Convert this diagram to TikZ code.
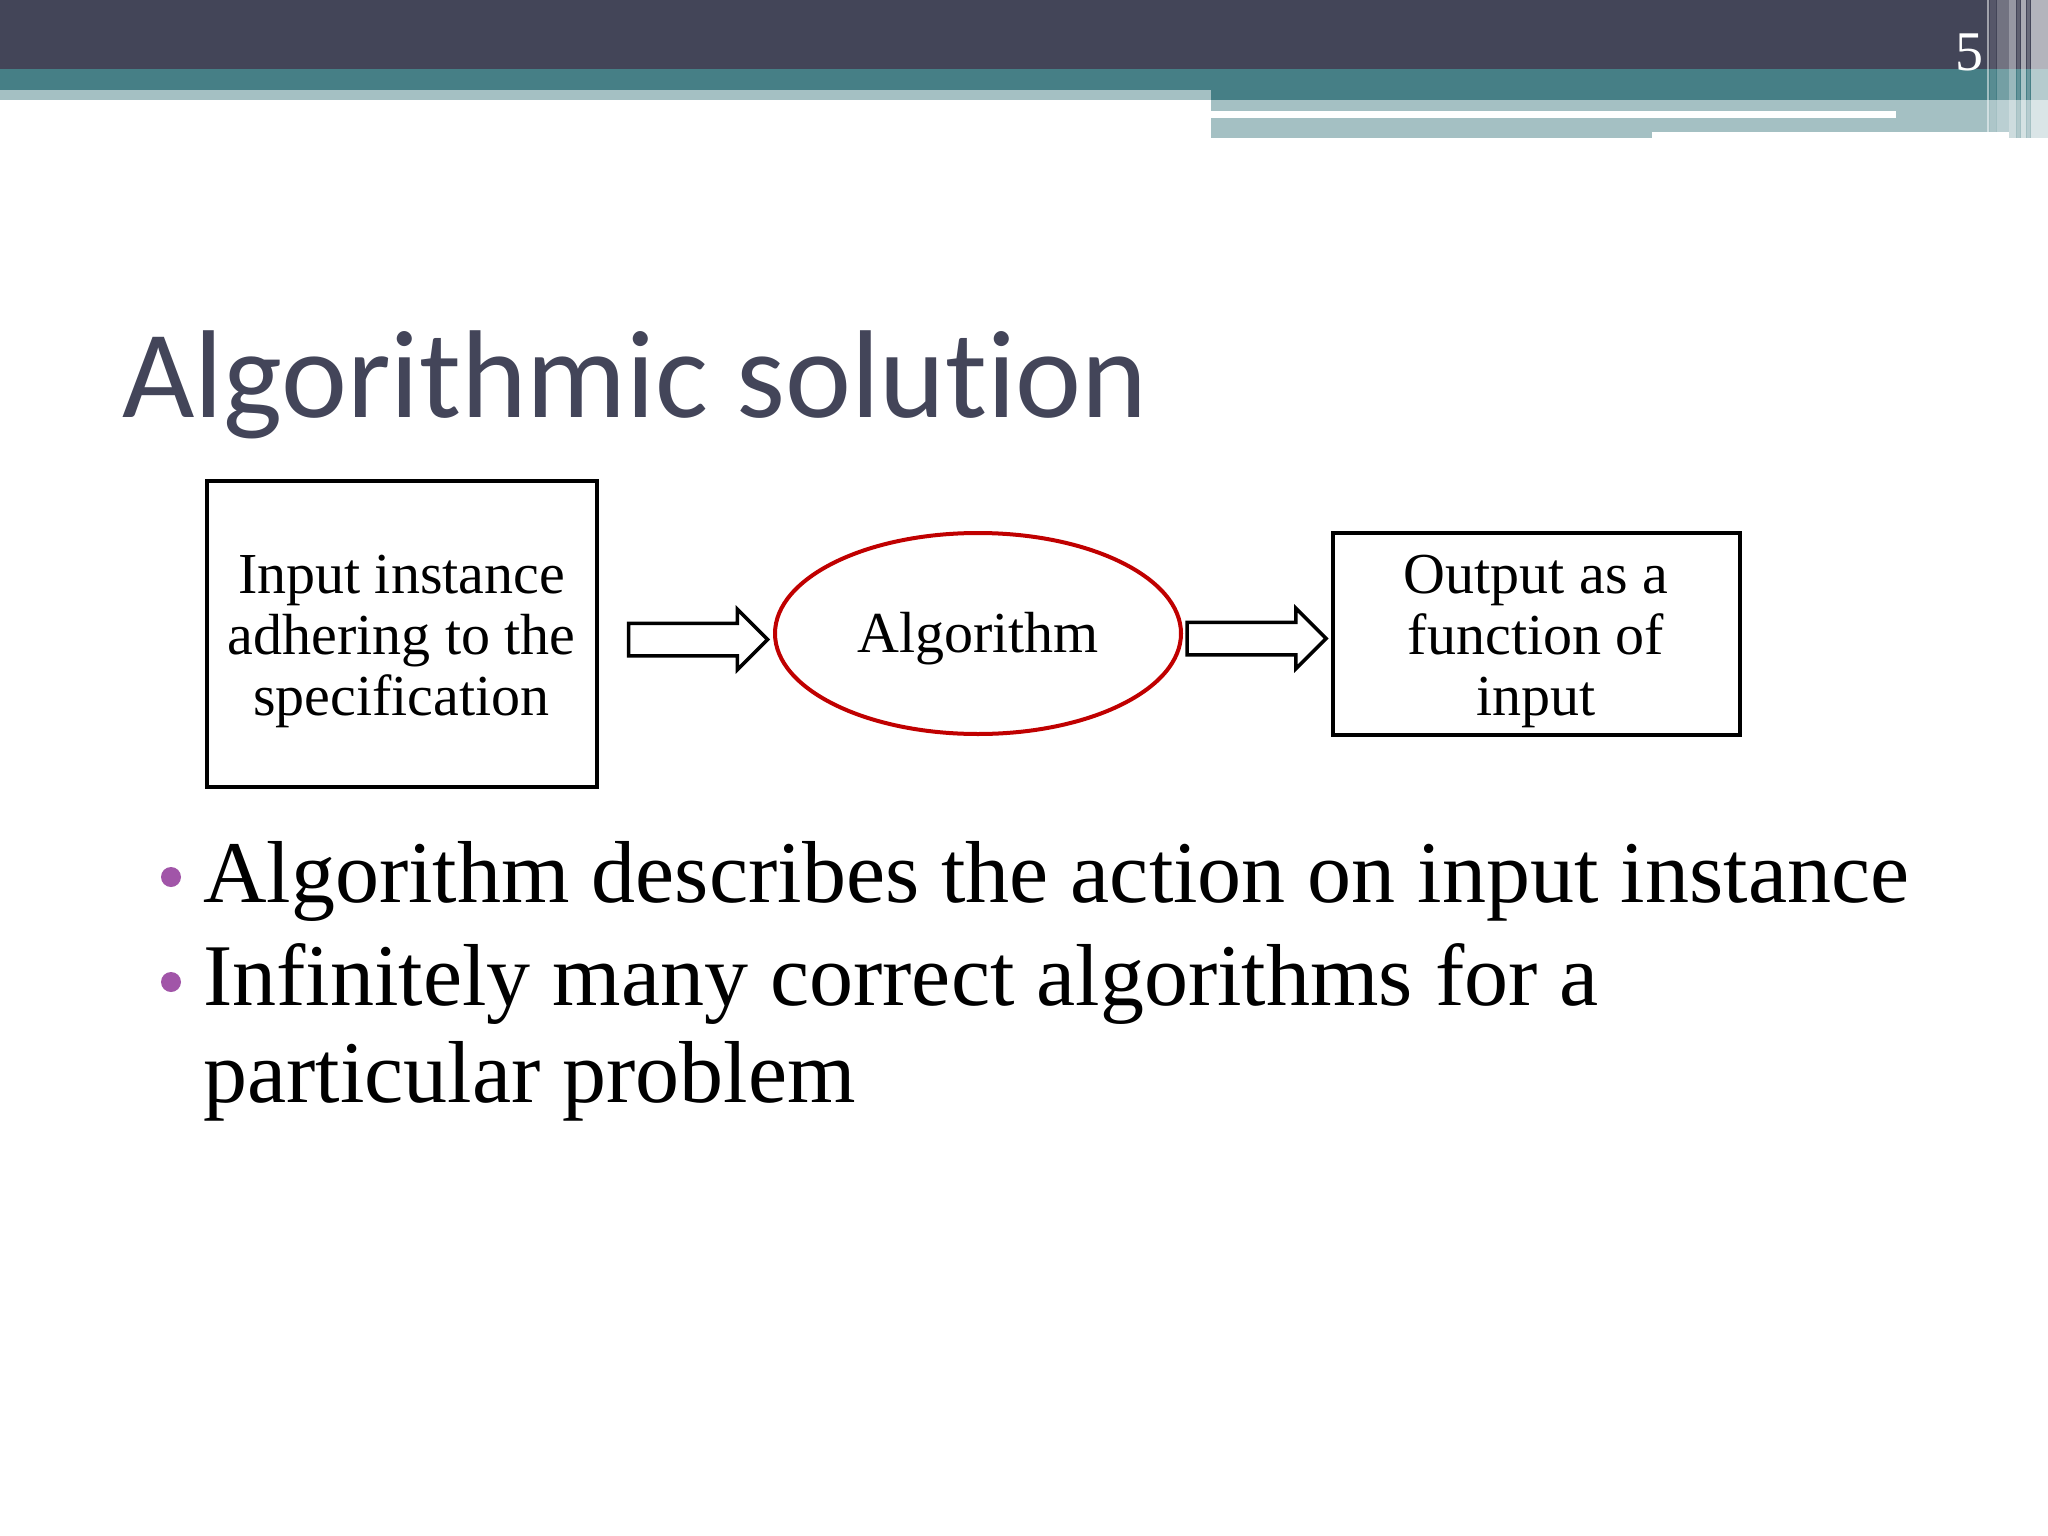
\documentclass[tikz,border=0pt]{standalone}
\usepackage{fontspec}
\setmainfont{Liberation Serif}
\newfontfamily\titlefont[Ligatures=NoCommon]{Carlito}
\usetikzlibrary{shapes.geometric, shapes.arrows, positioning, calc}

\definecolor{bardark}{HTML}{434558}
\definecolor{barteal}{HTML}{467F86}
\definecolor{barlight}{HTML}{A4C0C3}
\definecolor{titlecol}{HTML}{434559}
\definecolor{algored}{HTML}{C00000}
\definecolor{dotcol}{HTML}{A155A8}

\newcommand{\boxstrut}{\rule{0pt}{55pt}}

\begin{document}
\begin{tikzpicture}[x=1pt, y=-1pt, on grid,
   box/.style={draw, line width=4pt, align=center, inner sep=0pt,
               font=\fontsize{58}{61}\selectfont},
   algo/.style={ellipse, draw=algored, line width=4pt, inner sep=0pt,
                minimum width=406pt, minimum height=201pt,
                text height=46pt, text depth=8pt,
                font=\fontsize{58}{61}\selectfont},
   fatarrow/.style={single arrow, draw, fill=white, line width=3.5pt,
                    inner xsep=0pt, inner ysep=14.5pt,
                    single arrow head extend=14pt,
                    single arrow tip angle=90, minimum height=139pt},
   bullet/.style={inner sep=0pt, align=left, font=\fontsize{88}{97}\selectfont},
   dot/.style={circle, fill=dotcol, inner sep=0pt, minimum size=20pt}]
   \useasboundingbox (0,0) rectangle (2048,1536);
   \fill[white] (0,0) rectangle (2048,1536);

   % header bar
   \fill[bardark] (0,0) rectangle (2048,69);
   \fill[barteal] (0,69) rectangle (2048,100);
   \fill[barlight] (0,90) rectangle (1211,100);
   \fill[barlight] (1211,100) rectangle (2048,138);
   \fill[white] (1211,111) rectangle (1896,118);
   \fill[white] (1652,132) rectangle (2009,138);
   \fill[white, opacity=.5]  (1987,0) rectangle (1989,132);
   \fill[white, opacity=.1]  (1990,0) rectangle (1996,132);
   \fill[white, opacity=.25] (1997,0) rectangle (2009,132);
   \fill[white, opacity=.45] (2009,0) rectangle (2016,138);
   \fill[white, opacity=.15] (2017,0) rectangle (2020,138);
   \fill[white, opacity=.55] (2021,0) rectangle (2026,138);
   \fill[white, opacity=.2]  (2027,0) rectangle (2030,138);
   \fill[white, opacity=.6]  (2031,0) rectangle (2048,138);
   \node[anchor=base, text=white, inner sep=0pt, font=\fontsize{56}{60}\selectfont]
      (page_no) at (1969,71) {5};

   \node[anchor=base west, inner sep=0pt, text=titlecol,
         font=\titlefont\fontsize{125}{130}\selectfont]
      (title) at (122,417) {Algorithmic solution};

   % diagram
   \node[box, minimum width=390pt, minimum height=306pt] (in_box) at (401.5,633.5)
      {\boxstrut Input instance\\adhering to the\\specification};
   \node[algo] (algo) [right=576.5pt of in_box] {Algorithm};
   \node[box, minimum width=407pt, minimum height=202pt] (out_box) [right=558pt of algo]
      {\boxstrut Output as a\\function of\\input};

   \node[fatarrow, anchor=tip] (arr_in) at ($(algo.west)+(-3,6)$) {};
   \node[fatarrow, anchor=tip] (arr_out) at ($(out_box.west)+(-2,5)$) {};

   % bullets
   \node[bullet, anchor=base west] (item_1) at (203,902)
      {Algorithm describes the action on input instance};
   \node[bullet, anchor=base west] (item_2) at (203,1102)
      {Infinitely many correct algorithms for a\\particular problem};
   \node[dot] (dot_1) at (171,877) {};
   \node[dot] (dot_2) at (171,982) {};
\end{tikzpicture}
\end{document}
